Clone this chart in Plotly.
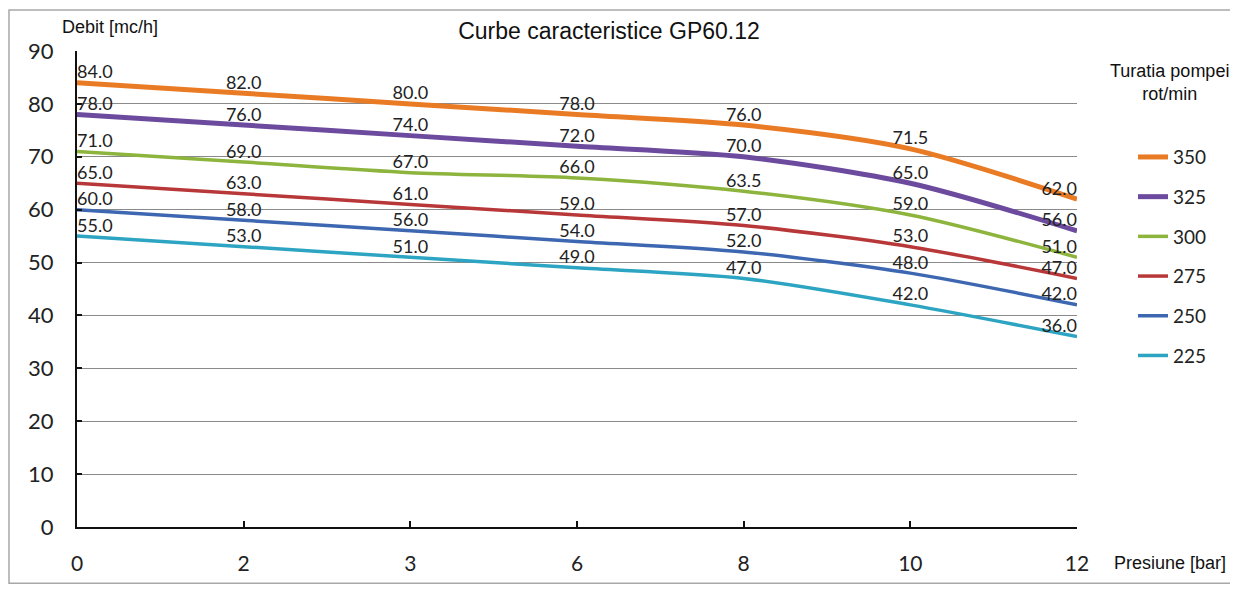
import plotly.graph_objects as go

pressures = ["0", "2", "3", "6", "8", "10", "12"]
speeds = ["350", "325", "300", "275", "250", "225"]
flow_350 = [84.0, 82.0, 80.0, 78.0, 76.0, 71.5, 62.0]
flow_325 = [78.0, 76.0, 74.0, 72.0, 70.0, 65.0, 56.0]
flow_300 = [71.0, 69.0, 67.0, 66.0, 63.5, 59.0, 51.0]
flow_275 = [65.0, 63.0, 61.0, 59.0, 57.0, 53.0, 47.0]
flow_250 = [60.0, 58.0, 56.0, 54.0, 52.0, 48.0, 42.0]
flow_225 = [55.0, 53.0, 51.0, 49.0, 47.0, 42.0, 36.0]
y_ticks = [0, 10, 20, 30, 40, 50, 60, 70, 80, 90]

series = [flow_350, flow_325, flow_300, flow_275, flow_250, flow_225]
colors = ["#EA7B25", "#6C4B9E", "#8DB43C", "#B8383A", "#3E67B1", "#2DA5C2"]
widths = [5, 5, 3.5, 3.5, 3.5, 3.5]

positions = ["top right"] + ["top center"] * 5 + ["top left"]

fig = go.Figure()
for name, vals, col, w in zip(speeds, series, colors, widths):
    fig.add_trace(go.Scatter(
        x=pressures, y=vals, name=name, legendgroup=name,
        mode="lines+text",
        line=dict(color=col, width=w, shape="spline", smoothing=0.8),
        text=[f"{v:.1f}" for v in vals],
        textposition=positions,
        textfont=dict(family="Lato, Liberation Sans", size=18, color="#222"),
        cliponaxis=False,
    ))

fig.update_layout(
    width=1230, height=582,
    margin=dict(l=69, r=161, t=43, b=63, autoexpand=False),
    paper_bgcolor="white", plot_bgcolor="white",
    title=dict(text="Curbe caracteristice GP60.12", xref="paper", x=0.532, xanchor="center",
               yref="container", y=0.960, yanchor="middle",
               font=dict(family="Liberation Sans, Arial", size=23, color="#111")),
    showlegend=True,
    legend=dict(x=1.056, xanchor="left", y=0.817, yanchor="top",
                font=dict(family="Lato, Liberation Sans", size=19, color="#222"),
                tracegroupgap=12, bgcolor="rgba(0,0,0,0)"),
    xaxis=dict(type="category", range=[0, 6], showgrid=False, automargin=False,
               showline=True, linecolor="#111", linewidth=2,
               ticks="inside", ticklen=6, tickcolor="#111", tickwidth=2,
               tickfont=dict(family="Lato, Liberation Sans", size=21, color="#222"),
               ticklabelstandoff=17, zeroline=False),
    yaxis=dict(range=[0, 90], tickvals=y_ticks, showgrid=True, automargin=False,
               gridcolor="#8a8a8a", gridwidth=1,
               showline=True, linecolor="#111", linewidth=2,
               ticks="inside", ticklen=5, tickcolor="#111", tickwidth=2,
               tickfont=dict(family="Lato, Liberation Sans", size=22, color="#222"),
               ticklabelstandoff=17, zeroline=False),
    shapes=[dict(type="rect", xref="paper", yref="paper",
                 x0=-0.068, x1=1.155, y0=-0.118, y1=1.086,
                 line=dict(color="#a8a8a8", width=1.5), layer="below")],
    annotations=[
        dict(text="Debit [mc/h]", xref="paper", yref="paper", x=-0.017, y=1.050,
             xanchor="left", yanchor="middle", showarrow=False,
             font=dict(family="Liberation Sans, Arial", size=18, color="#111")),
        dict(text="Presiune [bar]", xref="paper", yref="paper", x=1.035, y=-0.0756,
             xanchor="left", yanchor="middle", showarrow=False,
             font=dict(family="Liberation Sans, Arial", size=18, color="#111")),
        dict(text="Turatia pompei<br>rot/min", xref="paper", yref="paper", x=1.092, y=0.933,
             xanchor="center", yanchor="middle", showarrow=False, align="center",
             font=dict(family="Liberation Sans, Arial", size=18, color="#111")),
    ],
)

fig.write_html("out.html")
